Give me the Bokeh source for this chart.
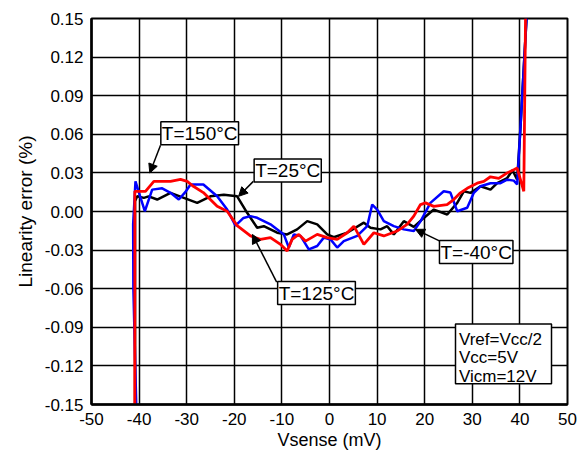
from bokeh.plotting import figure
from bokeh.models import (FixedTicker, NumeralTickFormatter, Label, Arrow,
                          NormalHead, BoxAnnotation, Range1d)
from bokeh.embed import file_html
from bokeh.resources import INLINE

# ---- data ----
x_ticks = [-50, -40, -30, -20, -10, 0, 10, 20, 30, 40, 50]
y_ticks = [-0.15, -0.12, -0.09, -0.06, -0.03, 0.0, 0.03, 0.06, 0.09, 0.12, 0.15]

blue_x = [-40.6, -41.2, -41.25, -40.76, -39.8, -38.8, -37.25, -35.15, -33.4, -31.66,
          -30.3, -29.2, -26.5, -23.6, -21.5, -19.75, -18.07, -16.6, -15.19, -12.4,
          -9.6, -8.55, -7.5, -6.09, -4.35, -2.58, -1.2, 0.21, 1.62, 3.0,
          5.82, 7.92, 8.97, 10.02, 11.41, 13.51, 15.61, 17.71, 19.12, 21.2,
          24.0, 25.4, 26.83, 28.93, 30.32, 31.72, 33.82, 35.92, 37.33, 38.72,
          39.43, 40.13, 40.82, 41.39]
blue_y = [-0.15, -0.06, -0.01, 0.0234, 0.012, 0.0002, 0.017, 0.018, 0.0145, 0.0093,
          0.015, 0.021, 0.021, 0.0118, 0.0015, -0.011, -0.005, -0.0036, -0.0049, -0.010,
          -0.0178, -0.028, -0.0178, -0.019, -0.0294, -0.0268, -0.0203, -0.0217, -0.028, -0.023,
          -0.019, -0.0114, 0.0054, 0.0015, -0.0075, -0.0114, -0.0139, -0.0152, -0.0077, 0.0067,
          0.0157, 0.0147, 0.0002, 0.0029, 0.0145, 0.0196, 0.022, 0.022, 0.0247, 0.024,
          0.021, 0.066, 0.112, 0.15]

red_x = [-40.9, -40.9, -38.66, -36.9, -33.4, -31.3, -29.9, -28.6, -26.5, -23.6,
         -21.5, -19.4, -16.6, -14.5, -12.4, -10.3, -8.9, -7.85, -6.45, -5.04,
         -2.58, -0.48, 1.62, 3.72, 5.12, 7.22, 9.32, 11.41, 14.2, 16.3,
         17.71, 19.12, 20.17, 21.9, 24.7, 26.1, 27.5, 28.93, 31.03, 32.42,
         33.82, 35.57, 37.33, 38.72, 39.43, 40.82, 41.18]
red_y = [-0.15, 0.0157, 0.0157, 0.0234, 0.0234, 0.025, 0.0234, 0.0196, 0.0147, 0.004,
         0.0002, -0.011, -0.019, -0.0217, -0.0203, -0.0255, -0.0307, -0.0217, -0.0178, -0.023,
         -0.0178, -0.0203, -0.0217, -0.0165, -0.0114, -0.0255, -0.0165, -0.019, -0.0152, -0.010,
         -0.0036, 0.0054, 0.0067, 0.004, 0.0054, 0.0093, 0.0145, 0.018, 0.022, 0.0234,
         0.027, 0.0258, 0.030, 0.0325, 0.0338, 0.0157, 0.15]

black_x = [-40.85, -40.85, -40.4, -39.0, -38.0, -36.2, -33.4, -30.6, -27.8, -25.0,
           -22.2, -19.4, -17.3, -15.2, -13.8, -11.0, -8.9, -6.8, -4.68, -2.58,
           -0.48, 0.9, 3.72, 7.22, 8.61, 10.71, 12.12, 13.51, 15.61, 17.71,
           19.82, 21.92, 24.73, 26.83, 28.22, 29.62, 31.72, 33.82, 35.23, 37.33,
           38.45, 39.43, 40.13, 40.82, 41.39]
black_y = [-0.15, 0.008, 0.0118, 0.0106, 0.0118, 0.0093, 0.0145, 0.0106, 0.0067, 0.0118,
           0.0131, 0.0118, -0.001, -0.0126, -0.0114, -0.0165, -0.0178, -0.0139, -0.0075, -0.010,
           -0.0178, -0.020, -0.0165, -0.0087, -0.0126, -0.0139, -0.0114, -0.0178, -0.0075, -0.012,
           -0.005, 0.0015, -0.0023, 0.0067, 0.0157, 0.0145, 0.0196, 0.017, 0.022, 0.026,
           0.0321, 0.0247, 0.066, 0.112, 0.15]

# annotations: (text, label x, label y, arrow start x, y, arrow tip x, y)
temp_labels = [
    ("T=150°C", -27.27, 0.0608, -35.5, 0.0515, -37.75, 0.0299),
    ("T=25°C", -8.78, 0.0318, -16.0, 0.0234, -19.1, 0.0118),
    ("T=125°C", -2.73, -0.0634, -11.1, -0.0549, -16.2, -0.0178),
    ("T=-40°C", 30.82, -0.0315, 23.3, -0.0232, 18.07, -0.0139),
]
cond_lines = ["Vref=Vcc/2", "Vcc=5V", "Vicm=12V"]
cond_y = [-0.0995, -0.1137, -0.1286]

FONT = "Liberation Sans"

p = figure(width=580, height=452, output_backend="svg", toolbar_location=None,
           x_range=Range1d(-50, 50), y_range=Range1d(-0.15, 0.15),
           min_border_left=91, min_border_right=13, min_border_top=18,
           min_border_bottom=46)
p.background_fill_color = "white"
p.border_fill_color = "white"
p.outline_line_color = "black"
p.outline_line_width = 2

p.xaxis.ticker = FixedTicker(ticks=x_ticks)
p.yaxis.ticker = FixedTicker(ticks=y_ticks)
p.xaxis.formatter = NumeralTickFormatter(format="0")
p.yaxis.formatter = NumeralTickFormatter(format="0.00")
p.xaxis.axis_label = "Vsense (mV)"
p.yaxis.axis_label = "Linearity error (%)"
for ax in (p.xaxis, p.yaxis):
    ax.axis_label_text_font = FONT
    ax.axis_label_text_font_style = "normal"
    ax.axis_label_text_font_size = "18px"
    ax.axis_label_text_color = "black"
    ax.major_label_text_font = FONT
    ax.major_label_text_font_size = "17px"
    ax.major_label_text_color = "black"
    ax.major_tick_in = 0
    ax.major_tick_out = 0
    ax.minor_tick_in = 0
    ax.minor_tick_out = 0
    ax.axis_line_width = 2.5
    ax.axis_line_color = "black"
    ax.major_label_standoff = 8
p.yaxis.axis_label_text_font_size = "19px"
p.yaxis.axis_label_standoff = 6
p.xaxis.axis_label_standoff = 2

for g in (p.xgrid, p.ygrid):
    g.grid_line_color = "black"
    g.grid_line_width = 1.5
    g.grid_line_alpha = 1.0
p.xgrid.ticker = FixedTicker(ticks=x_ticks)
p.ygrid.ticker = FixedTicker(ticks=y_ticks)

p.line(black_x, black_y, line_color="black", line_width=2.5)
p.line(blue_x, blue_y, line_color="#0000FF", line_width=2.5)
p.line(red_x, red_y, line_color="#FF0000", line_width=2.8)

for txt, lx, ly, ax0, ay0, ax1, ay1 in temp_labels:
    p.add_layout(Arrow(end=NormalHead(size=9, fill_color="black", line_color="black"),
                       x_start=ax0, y_start=ay0, x_end=ax1, y_end=ay1,
                       line_color="black", line_width=1.5))
    p.add_layout(Label(x=lx, y=ly, text=txt, text_align="center",
                       text_baseline="middle", text_font=FONT,
                       text_font_size="19px", text_color="black",
                       background_fill_color="white", background_fill_alpha=1.0,
                       border_line_color="black", border_line_width=1.5,
                       padding=1))

p.add_layout(BoxAnnotation(left=26.47, right=46.64, top=-0.0874, bottom=-0.1338,
                           fill_color="white", fill_alpha=1.0,
                           line_color="black", line_width=1.5, line_alpha=1.0))
for t, yy in zip(cond_lines, cond_y):
    p.add_layout(Label(x=27.2, y=yy, text=t, text_align="left",
                       text_baseline="middle", text_font=FONT,
                       text_font_size="17px", text_color="black"))

open("out.html", "w").write(file_html(p, INLINE))
